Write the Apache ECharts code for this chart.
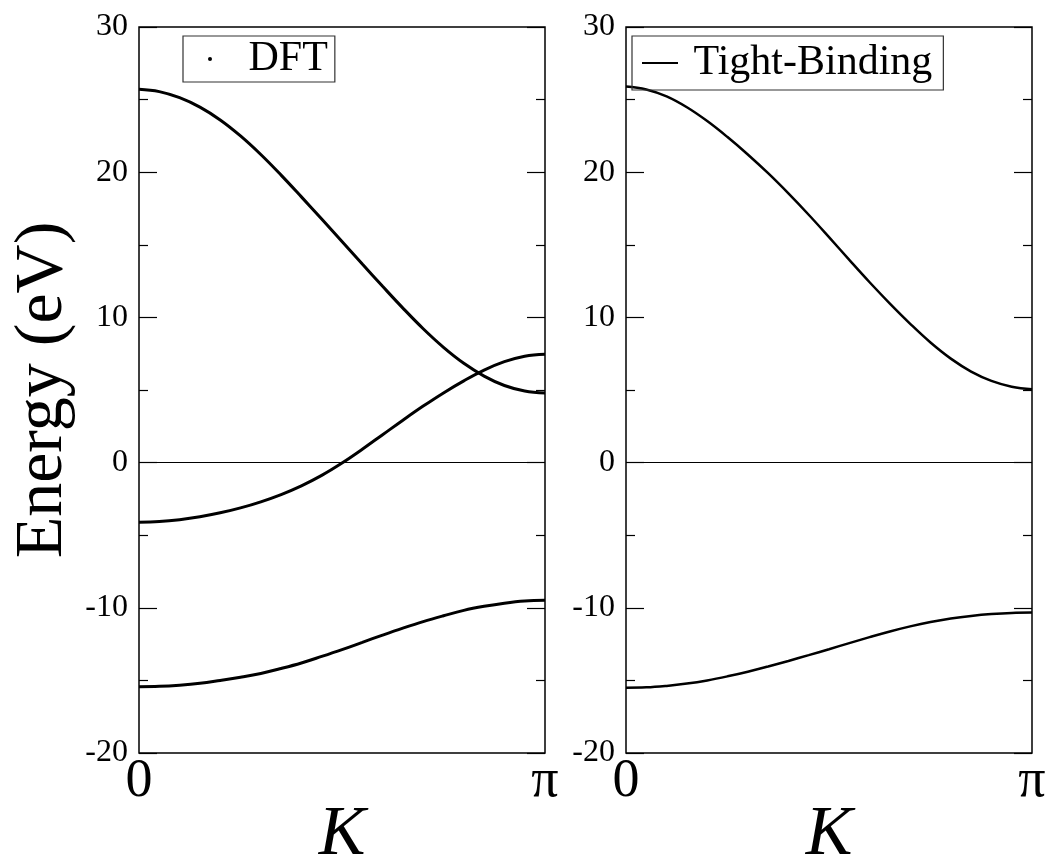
<!DOCTYPE html>
<html>
<head>
<meta charset="utf-8">
<script src="https://cdn.jsdelivr.net/npm/echarts@6/dist/echarts.min.js"></script>
<style>html,body{margin:0;padding:0;background:#fff;}#c{width:1050px;height:858px;}</style>
</head>
<body>
<div id="c"></div>
<script>
// K in units of pi
var kValues = [0, 0.05, 0.1, 0.15, 0.2, 0.25, 0.3, 0.35, 0.4, 0.45, 0.5, 0.55, 0.6, 0.65, 0.7, 0.75, 0.8, 0.85, 0.9, 0.95, 1.0];
// DFT bands (eV)
var dftBand1 = [-15.43, -15.41, -15.33, -15.2, -15.0, -14.78, -14.52, -14.18, -13.8, -13.35, -12.88, -12.38, -11.88, -11.4, -10.95, -10.55, -10.18, -9.9, -9.68, -9.53, -9.48];
var dftBand2 = [-4.11, -4.06, -3.93, -3.73, -3.46, -3.12, -2.7, -2.2, -1.6, -0.88, -0.03, 0.92, 1.92, 2.92, 3.89, 4.8, 5.63, 6.37, 6.95, 7.33, 7.46];
var dftBand3 = [25.71, 25.55, 25.13, 24.48, 23.6, 22.5, 21.22, 19.8, 18.3, 16.77, 15.22, 13.67, 12.14, 10.64, 9.22, 7.94, 6.84, 5.96, 5.31, 4.93, 4.79];
// Tight-binding bands (eV)
var tbBand1 = [-15.5, -15.48, -15.38, -15.22, -15.0, -14.72, -14.4, -14.04, -13.66, -13.26, -12.85, -12.43, -12.02, -11.63, -11.28, -10.98, -10.74, -10.56, -10.43, -10.35, -10.33];
var tbBand2 = [25.9, 25.7, 25.22, 24.47, 23.52, 22.42, 21.22, 19.93, 18.54, 17.07, 15.53, 13.96, 12.42, 10.95, 9.56, 8.27, 7.16, 6.27, 5.63, 5.23, 5.05];
var yTicks = [-20, -10, 0, 10, 20, 30];
var xTickLabels = {0: '0', 1: 'π'};

var FONT = "'Liberation Serif','Times New Roman',serif";

function pts(arr) { return kValues.map(function (k, i) { return [k, arr[i]]; }); }

function xAx(grid) {
  return {
    type: 'value', gridIndex: grid, min: 0, max: 1, interval: 1,
    axisLine: { show: false }, axisTick: { show: false }, splitLine: { show: false },
    axisLabel: { color: '#000', fontFamily: FONT, fontSize: 54, margin: 2,
      formatter: function (v) { return xTickLabels[v] !== undefined ? xTickLabels[v] : ''; } },
    name: 'K', nameLocation: 'middle', nameGap: 48, nameMoveOverlap: false,
    nameTextStyle: { color: '#000', fontFamily: FONT, fontSize: 70, fontStyle: 'italic' }
  };
}
function yAx(grid, pos, labels, name) {
  var a = {
    type: 'value', gridIndex: grid, position: pos, min: yTicks[0], max: yTicks[yTicks.length - 1], interval: 10,
    axisLine: { show: false },
    axisTick: { show: true, inside: true, length: 18, lineStyle: { color: '#000', width: 1.2 } },
    minorTick: { show: true, splitNumber: 2, length: 9, lineStyle: { color: '#000', width: 1.2 } },
    splitLine: { show: false },
    axisLabel: { show: labels, color: '#000', fontFamily: FONT, fontSize: 32, margin: 11 }
  };
  if (name) {
    a.name = name; a.nameLocation = 'middle'; a.nameGap = 62; a.nameRotate = 90; a.nameMoveOverlap = false;
    a.nameTextStyle = { color: '#000', fontFamily: FONT, fontSize: 68 };
  }
  return a;
}
function band(name, arr, xi, yi, w, zero) {
  var s = {
    name: name, type: 'line', xAxisIndex: xi, yAxisIndex: yi, data: pts(arr),
    smooth: 0.4, symbol: 'none', showSymbol: false, silent: true,
    lineStyle: { color: '#000', width: w }, itemStyle: { color: '#000' }
  };
  if (zero) {
    s.markLine = { silent: true, symbol: ['none', 'none'], label: { show: false },
      lineStyle: { color: '#000', width: 1, type: 'solid' }, data: [{ yAxis: 0 }] };
  }
  return s;
}

var chart = echarts.init(document.getElementById('c'), null, { renderer: 'canvas' });
chart.setOption({
  animation: false,
  backgroundColor: '#fff',
  grid: [
    { left: 139, top: 27, width: 406, height: 726, outerBoundsMode: 'none', containLabel: false, show: true, borderColor: '#000', borderWidth: 1.5, backgroundColor: 'transparent' },
    { left: 626, top: 27, width: 406, height: 726, outerBoundsMode: 'none', containLabel: false, show: true, borderColor: '#000', borderWidth: 1.5, backgroundColor: 'transparent' }
  ],
  xAxis: [xAx(0), xAx(1)],
  yAxis: [yAx(0, 'left', true, 'Energy (eV)'), yAx(0, 'right', false), yAx(1, 'left', true), yAx(1, 'right', false)],
  legend: [
    { data: [{ name: 'DFT', icon: 'circle' }], left: 183, top: 36, orient: 'horizontal',
      itemWidth: 4, itemHeight: 4, padding: [2, 7, 2, 25], selectedMode: false,
      borderColor: '#333', borderWidth: 1.2,
      formatter: function (n) { return '\u00a0\u00a0\u00a0' + n; },
      textStyle: { color: '#000', fontFamily: FONT, fontSize: 42, lineHeight: 40 } },
    { data: [{ name: 'Tight-Binding', icon: 'rect' }], left: 632, top: 36, orient: 'horizontal',
      itemWidth: 36, itemHeight: 2, padding: [5, 11, 5, 10], selectedMode: false,
      borderColor: '#333', borderWidth: 1.2,
      formatter: function (n) { return ' ' + n; },
      textStyle: { color: '#000', fontFamily: FONT, fontSize: 42, lineHeight: 44 } }
  ],
  series: [
    band('DFT', dftBand1, 0, 0, 3, true),
    band('DFT', dftBand2, 0, 0, 3, false),
    band('DFT', dftBand3, 0, 0, 3, false),
    band('Tight-Binding', tbBand1, 1, 2, 2.5, true),
    band('Tight-Binding', tbBand2, 1, 2, 2.5, false)
  ]
});
</script>
</body>
</html>
